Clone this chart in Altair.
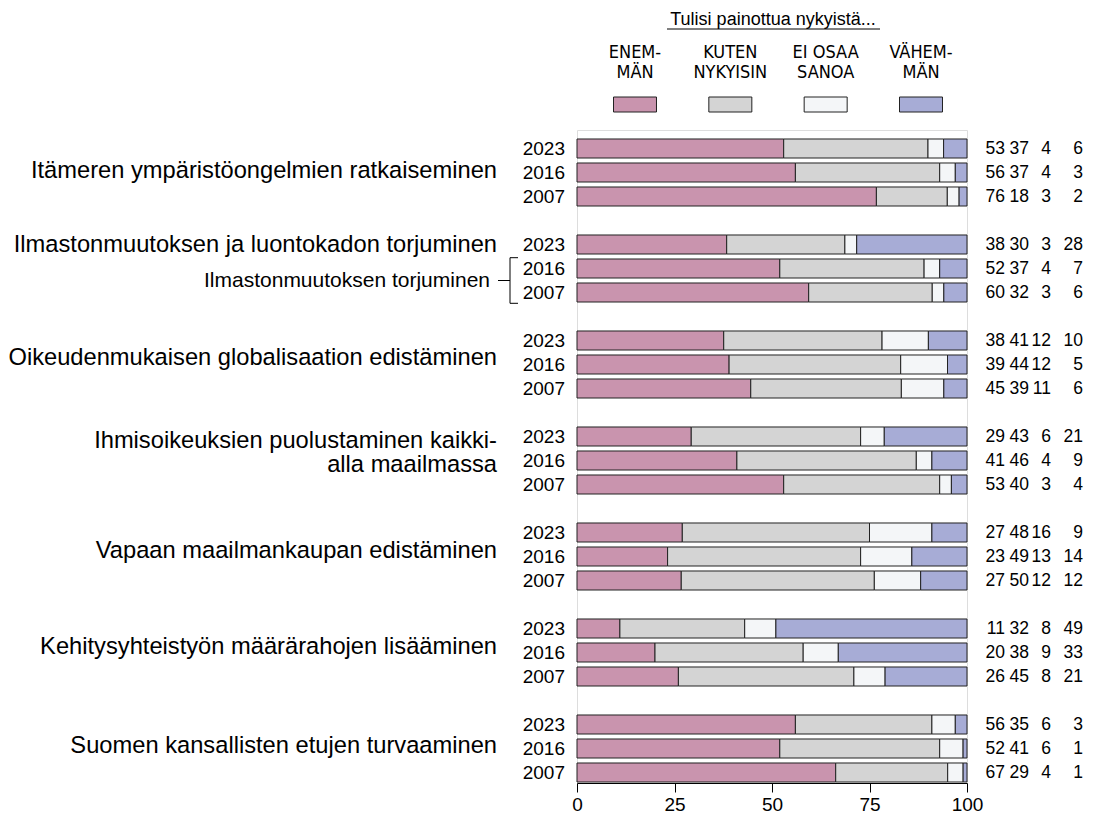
import altair as alt
import pandas as pd

# ---------------- data ----------------
groups = [
    "Itämeren ympäristöongelmien ratkaiseminen",
    "Ilmastonmuutoksen ja luontokadon torjuminen",
    "Oikeudenmukaisen globalisaation edistäminen",
    "Ihmisoikeuksien puolustaminen kaikki-\nalla maailmassa",
    "Vapaan maailmankaupan edistäminen",
    "Kehitysyhteistyön määrärahojen lisääminen",
    "Suomen kansallisten etujen turvaaminen",
]
sub_label = "Ilmastonmuutoksen torjuminen"
years = ["2023", "2016", "2007"]
categories = ["ENEMMÄN", "KUTEN NYKYISIN", "EI OSAA SANOA", "VÄHEMMÄN"]
legend_line1 = ["ENEM-", "KUTEN", "EI OSAA", "VÄHEM-"]
legend_line2 = ["MÄN", "NYKYISIN", "SANOA", "MÄN"]
legend_title = "Tulisi painottua nykyistä..."
colors = ["#c994ae", "#d4d4d4", "#f4f6f8", "#a7acd6"]

# rows: per group 2023, 2016, 2007
enemman  = [53, 56, 76, 38, 52, 60, 38, 39, 45, 29, 41, 53, 27, 23, 27, 11, 20, 26, 56, 52, 67]
kuten    = [37, 37, 18, 30, 37, 32, 41, 44, 39, 43, 46, 40, 48, 49, 50, 32, 38, 45, 35, 41, 29]
eos      = [4, 4, 3, 3, 4, 3, 12, 12, 11, 6, 4, 3, 16, 13, 12, 8, 9, 8, 6, 6, 4]
vahemman = [6, 3, 2, 28, 7, 6, 10, 5, 6, 21, 9, 4, 9, 14, 12, 49, 33, 21, 3, 1, 1]
ticks = [0, 25, 50, 75, 100]

# ---------------- layout constants ----------------
FONT = "Liberation Sans"
NARROW = "Liberation Sans Narrow, Arial Narrow, Noto Sans Condensed, DejaVu Sans Condensed, sans-serif"
W, H = 390, 653
PAD_L, PAD_T = 569, 122
PAD_R = 1083 - PAD_L - W
PAD_B = 806 - PAD_T - H
ROW = 24.0
ROW0 = 148.5 - 130  # first row center in plot px
y_dom = [-ROW0 / ROW, (H - ROW0) / ROW]
HALF = 0.396
label_offset = [0.92, 0.0, 0.72, 0.19, 0.77, 0.77, 0.9]

# ---------------- tables ----------------
series = [enemman, kuten, eos, vahemman]
bar_rows, year_rows, val_rows = [], [], []
for g in range(len(groups)):
    for k, yr in enumerate(years):
        i = 3 * g + k
        pos = 4 * g + k
        vals = [s[i] for s in series]
        tot = float(sum(vals))
        cum = 0.0
        for c, v in enumerate(vals):
            bar_rows.append(dict(pos=pos, cat=categories[c], v=v,
                                 x0=cum / tot * 100, x1=(cum + v) / tot * 100,
                                 y0=pos - HALF, y1=pos + HALF))
            cum += v
        year_rows.append(dict(pos=pos, year=yr))
        val_rows.append(dict(pos=pos, a=str(vals[0]), b=str(vals[1]), c=str(vals[2]), d=str(vals[3])))

bars_df = pd.DataFrame(bar_rows)
years_df = pd.DataFrame(year_rows)
vals_df = pd.DataFrame(val_rows)
glab_df = pd.DataFrame(dict(label=groups, pos=[4 * g + label_offset[g] for g in range(len(groups))]))
leg_df = pd.DataFrame(dict(idx=list(range(4)), cat=categories, l1=legend_line1, l2=legend_line2))

yscale = alt.Scale(domain=y_dom, reverse=True, nice=False, zero=False)
color = alt.Color("cat:N", scale=alt.Scale(domain=categories, range=colors), legend=None)

bars = alt.Chart(bars_df).mark_rect(stroke="#222222", strokeWidth=1).encode(
    x=alt.X("x0:Q", scale=alt.Scale(domain=[0, 100], nice=False),
            axis=alt.Axis(values=ticks, grid=False, title=None, domainColor="black",
                          tickColor="black", tickSize=9, labelFontSize=19, labelFont=FONT,
                          labelColor="black", labelPadding=3, labelFlush=False)),
    x2="x1:Q",
    y=alt.Y("y0:Q", scale=yscale, axis=None),
    y2="y1:Q",
    color=color,
)

year_text = alt.Chart(years_df).mark_text(align="right", baseline="middle", fontSize=19,
                                          font=FONT, color="black").encode(
    x=alt.value(-12), y=alt.Y("pos:Q", scale=yscale, axis=None), text="year:N")

val_layers = []
for col, xr in zip(["a", "b", "c", "d"], [428, 452, 474, 506]):
    val_layers.append(alt.Chart(vals_df).mark_text(align="right", baseline="middle", fontSize=17.5,
                                                   font=FONT, color="black").encode(
        x=alt.value(xr), y=alt.Y("pos:Q", scale=yscale, axis=None), text=f"{col}:N"))

group_text = alt.Chart(glab_df).mark_text(align="right", baseline="middle", fontSize=23.7,
                                          font=FONT, color="black", lineBreak="\n",
                                          lineHeight=24).encode(
    x=alt.value(-80), y=alt.Y("pos:Q", scale=yscale, axis=None), text="label:N")

sub_df = pd.DataFrame(dict(label=[sub_label], pos=[5.5], ytop=[4.55], ybot=[6.45]))
sub_text = alt.Chart(sub_df).mark_text(align="right", baseline="middle", fontSize=21,
                                       font=FONT, color="black").encode(
    x=alt.value(-87), y=alt.Y("pos:Q", scale=yscale, axis=None), text="label:N")
br_conn = alt.Chart(sub_df).mark_rule(color="black", strokeWidth=1).encode(
    x=alt.value(-79), x2=alt.value(-67), y=alt.Y("pos:Q", scale=yscale, axis=None))
br_vert = alt.Chart(sub_df).mark_rule(color="black", strokeWidth=1).encode(
    x=alt.value(-67), y=alt.Y("ytop:Q", scale=yscale, axis=None), y2="ybot:Q")
br_top = alt.Chart(sub_df).mark_rule(color="black", strokeWidth=1).encode(
    x=alt.value(-67), x2=alt.value(-59), y=alt.Y("ytop:Q", scale=yscale, axis=None))
br_bot = alt.Chart(sub_df).mark_rule(color="black", strokeWidth=1).encode(
    x=alt.value(-67), x2=alt.value(-59), y=alt.Y("ybot:Q", scale=yscale, axis=None))

# legend
lx = alt.Scale(domain=[0, 3], range=[58, 344])
leg_rect = alt.Chart(leg_df).transform_calculate(
    xa="datum.idx - 0.2255", xb="datum.idx + 0.2255"
).mark_rect(stroke="#222222", strokeWidth=1).encode(
    x=alt.X("xa:Q", scale=lx, axis=None), x2="xb:Q",
    y=alt.value(-33), y2=alt.value(-18), color=color)
leg_t1 = alt.Chart(leg_df).mark_text(align="center", baseline="middle", fontSize=18,
                                     font=NARROW, color="black").encode(
    x=alt.X("idx:Q", scale=lx, axis=None), y=alt.value(-77), text="l1:N")
leg_t2 = alt.Chart(leg_df).mark_text(align="center", baseline="middle", fontSize=18,
                                     font=NARROW, color="black").encode(
    x=alt.X("idx:Q", scale=lx, axis=None), y=alt.value(-57), text="l2:N")
title_df = pd.DataFrame(dict(t=[legend_title]))
leg_title = alt.Chart(title_df).mark_text(align="center", baseline="middle", fontSize=18,
                                          font=FONT, color="black").encode(
    x=alt.value(196), y=alt.value(-110), text="t:N")
leg_ul = alt.Chart(title_df).mark_rule(color="black", strokeWidth=1).encode(
    x=alt.value(90), x2=alt.value(303), y=alt.value(-101))

chart = alt.layer(
    bars, year_text, *val_layers, group_text, sub_text, br_conn, br_vert, br_top, br_bot,
    leg_rect, leg_t1, leg_t2, leg_title, leg_ul
).resolve_scale(x="independent").properties(
    width=W, height=H,
    autosize=alt.AutoSizeParams(type="none"),
    padding={"left": PAD_L, "top": PAD_T, "right": PAD_R, "bottom": PAD_B},
).configure_view(stroke=None).configure(background="white")

chart.save("out.html", embed_options={"renderer": "svg", "actions": False})
